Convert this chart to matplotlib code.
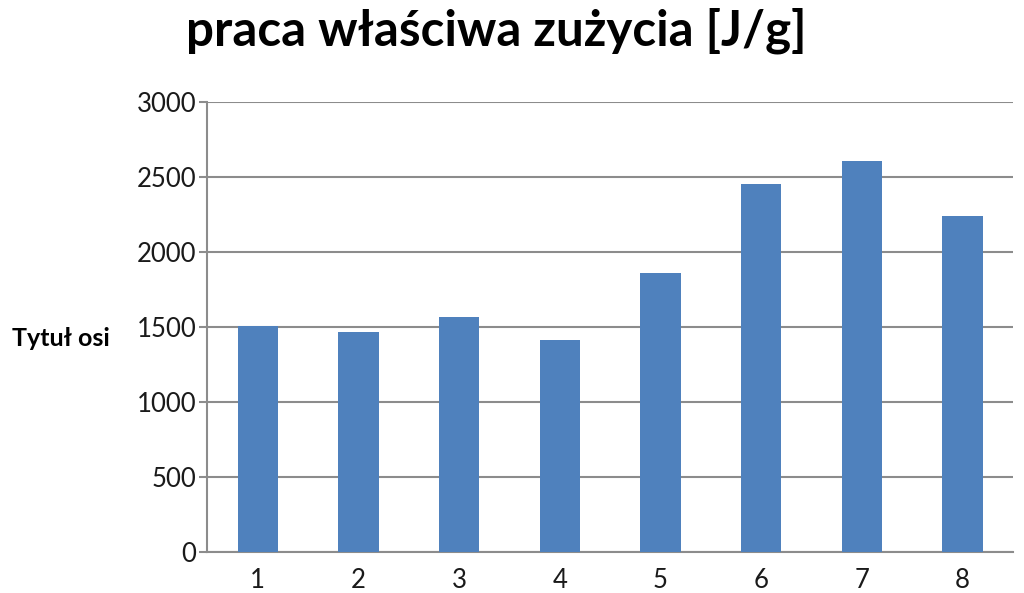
import matplotlib
matplotlib.use('Agg')
import matplotlib.pyplot as plt

kategorie = ['1', '2', '3', '4', '5', '6', '7', '8']
praca = [1505, 1469, 1564, 1415, 1861, 2453, 2606, 2242]
osie_y = [0, 500, 1000, 1500, 2000, 2500, 3000]

plt.rcParams['font.family'] = ['Lato', 'DejaVu Sans']

fig = plt.figure(figsize=(10.24, 5.93), dpi=100)
ax = fig.add_axes([0.2025, 0.0686, 0.7867, 0.7599])

ax.bar(range(len(kategorie)), praca, width=0.4, color='#4F81BD', zorder=3)
ax.set_xlim(-0.5, len(kategorie) - 0.5)
ax.set_ylim(0, 3000)
ax.set_yticks(osie_y)
ax.set_xticks(range(len(kategorie)))
ax.set_xticklabels(kategorie)

ax.grid(axis='y', color='#8c8c8c', linewidth=1.5, zorder=0)
for s in ['top', 'right']:
    ax.spines[s].set_visible(False)
for s in ['left', 'bottom']:
    ax.spines[s].set_color('#8c8c8c')
    ax.spines[s].set_linewidth(1.5)

ax.tick_params(axis='y', length=6, width=1.5, color='#8c8c8c', labelsize=18.5,
               labelcolor='#1a1a1a', pad=2)
ax.tick_params(axis='x', length=0, labelsize=18.5, labelcolor='#1a1a1a', pad=11)

fig.text(0.485, 0.948, 'praca właściwa zużycia [J/g]', ha='center', va='center',
         fontsize=35.5, fontweight='bold', color='black')
fig.text(0.0596, 0.43, 'Tytuł osi', ha='center', va='center',
         fontsize=18, fontweight='bold', color='black')

fig.savefig('out.png', dpi=100, facecolor='white')
